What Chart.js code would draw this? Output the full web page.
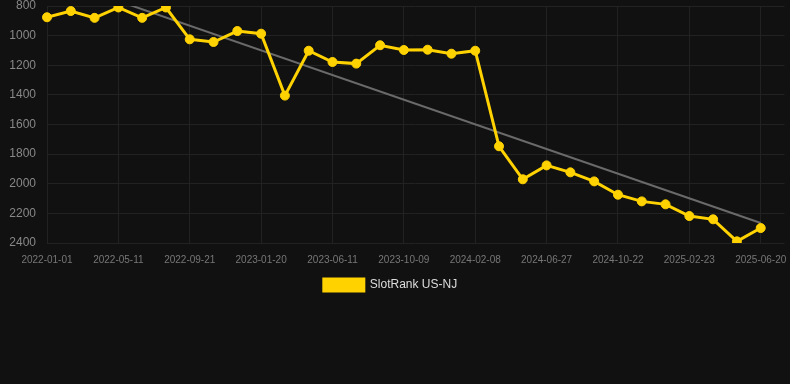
<!DOCTYPE html>
<html>
<head>
<meta charset="utf-8">
<script src="https://cdn.jsdelivr.net/npm/chart.js@4/dist/chart.umd.min.js"></script>
<style>
  html, body { margin: 0; padding: 0; background: #111111; }
  #wrap { width: 790px; height: 301px; position: relative; }
</style>
</head>
<body>
<div id="wrap"><canvas id="chart"></canvas></div>
<script>
// x categories (only every 3rd shows on the axis)
var dates = [
  '2022-01-01', '2022-02-14', '2022-03-28', '2022-05-11', '2022-06-24', '2022-08-07',
  '2022-09-21', '2022-11-01', '2022-12-10', '2023-01-20', '2023-03-07', '2023-04-25',
  '2023-06-11', '2023-07-21', '2023-08-30', '2023-10-09', '2023-11-20', '2023-12-29',
  '2024-02-08', '2024-03-24', '2024-05-10', '2024-06-27', '2024-08-05', '2024-09-13',
  '2024-10-22', '2024-12-04', '2025-01-13', '2025-02-23', '2025-04-05', '2025-05-12',
  '2025-06-20', '2025-07-31'
];

// SlotRank US-NJ (lower is better, axis reversed)
var rank = [
  876, 834, 880, 810, 880, 810,
  1025, 1043, 969, 987, 1405, 1102,
  1178, 1189, 1065, 1097, 1095, 1122,
  1102, 1747, 1970, 1876, 1923, 1984,
  2074, 2119, 2139, 2218, 2240, 2389,
  2299, null
];

// trend line, only the two ends
var trend = [];
for (var i = 0; i < dates.length; i++) { trend.push(null); }
trend[0] = 600;
trend[30] = 2265;

var yTicks = [800, 1000, 1200, 1400, 1600, 1800, 2000, 2200, 2400];

var gold = '#ffd200';
var gridColor = '#222222';

// nudge the legend a little left, like the original
var legendShift = {
  id: 'legendShift',
  afterLayout: function (chart) {
    chart.legend.left -= 9;
    chart.legend.right -= 9;
  }
};

new Chart(document.getElementById('chart'), {
  type: 'line',
  data: {
    labels: dates,
    datasets: [
      {
        label: 'SlotRank US-NJ',
        data: rank,
        borderColor: gold,
        backgroundColor: gold,
        borderWidth: 3,
        pointRadius: 4.5,
        pointHoverRadius: 4.5,
        pointBorderWidth: 1,
        pointBackgroundColor: gold,
        pointBorderColor: gold,
        tension: 0
      },
      {
        label: 'trend',
        data: trend,
        borderColor: '#6a6a6a',
        borderWidth: 2,
        pointRadius: 0,
        spanGaps: true,
        fill: false
      }
    ]
  },
  plugins: [legendShift],
  options: {
    responsive: true,
    maintainAspectRatio: false,
    animation: false,
    layout: { padding: { left: 9, right: 0, top: 0, bottom: 0 } },
    scales: {
      x: {
        offset: false,
        grid: {
          color: function (ctx) { return ctx.index % 3 === 0 ? gridColor : 'rgba(0,0,0,0)'; },
          drawTicks: false
        },
        border: { display: false },
        ticks: {
          autoSkip: false,
          maxRotation: 0,
          color: '#777777',
          font: { family: 'Arial, Liberation Sans, sans-serif', size: 10 },
          padding: 11,
          callback: function (v, i) { return i % 3 === 0 ? dates[i] : ''; }
        },
        afterFit: function (axis) { axis.paddingRight = 4; axis.paddingLeft = 0; }
      },
      y: {
        reverse: true,
        min: 800,
        max: 2400,
        afterBuildTicks: function (axis) {
          axis.ticks = yTicks.map(function (v) { return { value: v }; });
        },
        grid: { color: gridColor, drawTicks: false },
        border: { display: false },
        ticks: {
          color: '#888888',
          font: { family: 'Arial, Liberation Sans, sans-serif', size: 12 },
          padding: 11,
          callback: function (v) { return String(v); }
        },
        afterFit: function (axis) { axis.paddingTop = 6; axis.width = 38; }
      }
    },
    plugins: {
      legend: {
        position: 'bottom',
        labels: {
          filter: function (item) { return item.datasetIndex === 0; },
          boxWidth: 40,
          boxHeight: 12,
          padding: 2,
          color: '#dddddd',
          font: { family: 'Arial, Liberation Sans, sans-serif', size: 12 }
        }
      },
      tooltip: { enabled: false }
    }
  }
});
</script>
</body>
</html>
